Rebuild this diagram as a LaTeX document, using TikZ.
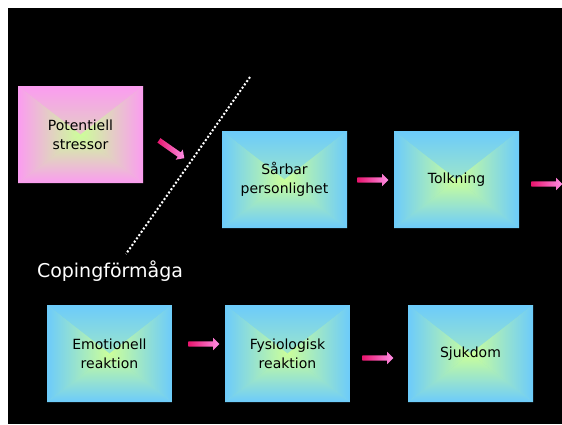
\documentclass[tikz,border=0pt]{standalone}
\usepackage{fontspec}
\setmainfont{DejaVu Sans}
\usetikzlibrary{shapes.arrows}
\definecolor{ctr}{HTML}{CCFF99}
\definecolor{bluec}{HTML}{6CCBFB}
\definecolor{pinkc}{HTML}{FB9CF0}
\definecolor{arrdark}{HTML}{E8166E}
\definecolor{arrlight}{HTML}{FF8FE6}
\tikzset{
  gbox/.style={rectangle, minimum width=125pt, minimum height=97pt, inner sep=0pt,
    align=center, font=\fontsize{14}{19}\selectfont, text=black, fill=#1!55!ctr,
    path picture={
      \path[top color=#1, bottom color=ctr] (path picture bounding box.north west) -- (path picture bounding box.north east) -- (path picture bounding box.center) -- cycle;
      \path[bottom color=#1, top color=ctr] (path picture bounding box.south west) -- (path picture bounding box.south east) -- (path picture bounding box.center) -- cycle;
      \path[left color=#1, right color=ctr] (path picture bounding box.north west) -- (path picture bounding box.south west) -- (path picture bounding box.center) -- cycle;
      \path[right color=#1, left color=ctr] (path picture bounding box.north east) -- (path picture bounding box.south east) -- (path picture bounding box.center) -- cycle;
    }},
  barrow/.style={shape=single arrow, minimum height=31pt, minimum width=12pt,
    single arrow head extend=3.5pt, single arrow head indent=0pt,
    inner xsep=0pt, inner ysep=2.5pt, text height=0pt, text depth=0pt,
    left color=arrdark, right color=arrlight, draw=none},
  dotline/.style={draw=white, line width=2pt, dash pattern=on 2pt off 2pt}
}
\begin{document}
\begin{tikzpicture}[x=1pt,y=-1pt]
\useasboundingbox (0,0) rectangle (562,424);
\fill[white] (0,0) rectangle (562,424);
\fill[black] (8,8) rectangle (562,424);

\node[gbox=pinkc] (stress) at (80.5,134.5) {Potentiell\\stressor};
\node[gbox=bluec] (sarb) at (284.5,179.5) {Sårbar\\personlighet};
\node[gbox=bluec] (tolk) at (456.5,179.5) {Tolkning};
\node[gbox=bluec] (emo) at (109.5,353.5) {Emotionell\\reaktion};
\node[gbox=bluec] (fys) at (287.5,353.5) {Fysiologisk\\reaktion};
\node[gbox=bluec] (sjuk) at (470.5,353.5) {Sjukdom};

\node[barrow, rotate=-35] (a1) at (170.5,148.5) {};
\node[barrow] (a2) at (371.5,180) {};
\node[barrow] (a3) at (545.5,184) {};
\node[barrow] (a4) at (202.5,344) {};
\node[barrow] (a5) at (376.5,358) {};

\coordinate (d1) at (250,77);
\coordinate (d2) at (126,254);
\draw[dotline] (d1) -- (d2);

\node[text=white, font=\fontsize{19}{23}\selectfont] (cop) at (110,271) {Copingförmåga};
\end{tikzpicture}
\end{document}
